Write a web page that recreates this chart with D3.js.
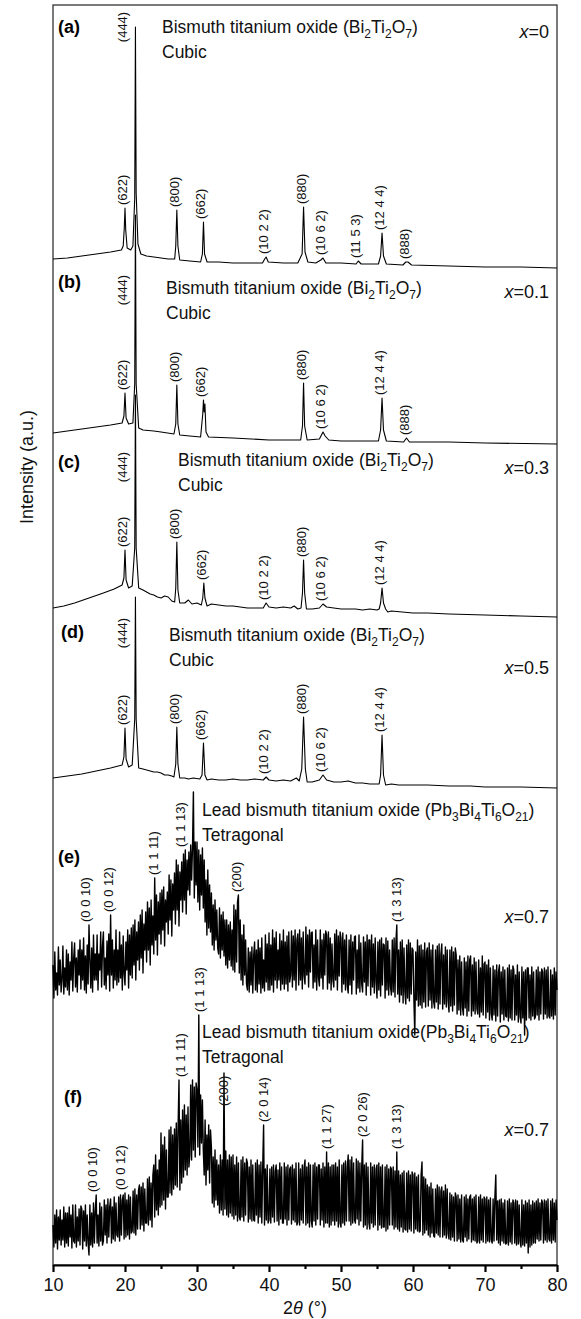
<!DOCTYPE html>
<html>
<head>
<meta charset="utf-8">
<script src="https://cdn.jsdelivr.net/npm/d3@7"></script>
<style>
  body { margin: 0; background: #fff; }
  svg { display: block; font-family: "Liberation Sans", Arial, sans-serif; }
</style>
</head>
<body>
<svg id="chart"></svg>
<script>
// ---- data: [2theta, intensity a.u. above each pattern's own baseline]
const patternA = [[10,9],[12,10],[14,12],[16,14],[18,16],[19.5,18],[19.75,22],[19.9,40],[20.0,60],[20.1,38],[20.3,20],[20.8,18],[21.1,22],[21.35,70],[21.45,241],[21.55,75],[21.8,24],[22.2,14],[23,12],[24,11],[25,10],[26,9],[26.9,9],[27.05,22],[27.2,58],[27.35,22],[27.6,8],[29,7],[30.5,6],[30.75,14],[30.9,46],[31.05,14],[31.4,6],[33,6],[35,5],[37,5],[39.1,5],[39.4,9],[39.6,11],[39.9,6],[42,5],[44,5],[44.6,14],[44.8,61],[45.0,16],[45.4,6],[46.5,5],[47.2,8],[47.5,10],[47.9,5],[50,5],[52.1,4],[52.4,7],[52.8,4],[55.2,4],[55.5,12],[55.7,35],[55.9,12],[56.3,4],[58.6,3],[59.0,6],[59.3,6],[59.8,3],[65,2],[70,1],[75,1],[80,0]];

const patternB = [[10,11],[12,13],[15,16],[18,19],[19.6,21],[19.85,28],[20.0,51],[20.15,26],[20.5,20],[21.1,21],[21.35,60],[21.45,229],[21.55,60],[21.9,16],[22.5,14],[24,13],[25,12],[26.8,10],[27.05,20],[27.2,59],[27.35,20],[27.6,9],[29,8],[30.5,7],[30.8,30],[30.9,44],[31.0,32],[31.1,40],[31.25,12],[31.6,7],[35,6],[40,4],[44.4,4],[44.65,18],[44.8,61],[44.95,18],[45.3,4],[47.0,5],[47.5,12],[47.8,8],[48.3,4],[50,3],[55.2,3],[55.5,14],[55.7,46],[55.9,14],[56.3,3],[58.7,2],[59.1,6],[59.5,2],[65,2],[70,1],[80,0]];

const patternC = [[10,10],[11.5,12],[13,15],[15,20],[17,25],[18.5,29],[19.6,33],[19.85,40],[20.0,68],[20.15,38],[20.5,30],[21.0,32],[21.35,70],[21.45,223],[21.55,70],[21.9,30],[22.5,28],[23,26],[23.5,24],[24,23],[24.5,21],[25,20],[25.5,22],[26,21],[26.5,17],[26.9,16],[27.05,30],[27.2,76],[27.35,28],[27.6,15],[28.3,15],[28.8,18],[29.3,14],[30,15],[30.6,13],[30.8,20],[30.95,35],[31.1,20],[31.4,12],[32,14],[33,13],[34,12],[35,12],[36,11],[37,10],[38,10],[39.2,10],[39.6,15],[40.0,11],[41,10],[42,11],[43,10],[43.5,12],[44.0,9],[44.45,10],[44.65,25],[44.8,58],[44.95,25],[45.2,9],[46,9],[47.0,10],[47.5,14],[48,11],[49,10],[50,9],[52,9],[53,8],[54,9],[55.0,8],[55.3,9],[55.5,15],[55.7,30],[55.9,15],[56.2,9],[56.5,6],[57,7],[60,5],[62,5],[65,4],[70,3],[75,2],[80,1]];

const patternD = [[10,11],[12,13],[14,15],[16,18],[18,21],[19.6,24],[19.85,32],[20.0,61],[20.15,30],[20.5,22],[21.0,24],[21.35,70],[21.45,192],[21.55,70],[21.9,21],[22.5,20],[23,19],[23.5,18],[24,17],[24.5,17],[25,16],[25.5,14],[26,14],[26.5,13],[26.8,12],[27.05,25],[27.2,62],[27.35,25],[27.6,11],[28.3,11],[28.8,10],[29.5,11],[30.4,10],[30.7,14],[30.9,46],[31.1,14],[31.4,9],[32,10],[33,9],[34,9],[35,10],[36,9],[37,9],[38,10],[39.2,9],[39.6,12],[40,9],[41,8],[42,9],[43,8],[43.8,11],[44.2,8],[44.55,20],[44.8,72],[45.05,20],[45.3,7],[46,7],[47.0,9],[47.5,14],[48.0,9],[49,7],[50,7],[51,8],[52,6],[53,6],[54,5],[55.3,5],[55.5,14],[55.7,54],[55.9,14],[56.2,4],[57,5],[58,4],[60,4],[62,4],[65,3],[68,3],[70,2],[75,2],[80,1]];

// noisy scans (e) and (f): one value per 0.125 deg step from 10 to 80 (8 per row = 1 degree)
const scanStart = 10, scanStep = 0.125;
const patternE = [
  55,22,68,30,47,25,73,35,   60,28,40,74,26,52,33,70,   30,66,25,58,40,78,29,62,   77,33,62,28,70,45,80,31,
  70,40,82,30,64,27,75,36,   95,60,32,72,28,85,40,66,   40,85,30,66,50,88,33,74,   88,35,62,31,79,45,86,29,
  105,45,80,32,70,40,90,35,  70,38,88,42,75,30,84,46,   35,78,50,90,32,85,45,92,   42,95,55,100,40,88,60,98,
  50,105,62,110,47,96,70,108, 58,118,70,112,55,120,75,104, 66,142,80,125,65,118,86,127, 76,130,90,133,74,120,98,128,
  86,145,100,140,84,136,110,147, 96,160,110,155,94,148,120,158, 108,166,120,170,106,160,130,168, 125,175,140,172,228,122,178,135,
  178,118,170,110,165,125,172,112, 160,98,140,85,150,92,135,88, 127,75,115,70,120,80,110,72, 66,112,62,105,70,108,64,100,
  55,100,52,95,60,98,54,90,  50,115,48,110,58,118,125,47, 100,40,85,35,95,45,80,36, 30,72,28,68,35,73,27,65,
  78,30,70,28,80,36,72,27,   82,32,60,29,85,38,76,30,   87,30,75,35,90,28,82,40,   88,32,70,40,86,30,79,36,
  90,31,78,36,84,29,88,38,   45,89,33,84,40,90,30,80,   86,35,90,40,82,31,88,44,   36,93,45,85,33,90,48,87,
  88,32,75,38,90,30,80,42,   34,90,42,80,31,86,45,89,   85,31,88,37,82,30,76,40,   33,86,40,90,30,84,44,88,
  82,28,87,36,80,30,85,34,   27,80,35,85,26,78,40,83,   84,26,70,32,85,28,77,36,   28,83,38,78,25,85,34,80,
  80,25,85,33,76,27,82,38,   22,78,30,80,24,82,35,76,   75,22,82,30,79,25,70,33,   25,80,28,82,23,78,95,26,
  70,18,78,25,80,17,72,28,   16,75,22,80,19,77,26,72,   70,20,-15,68,20,80,14,74,  15,75,12,70,18,77,13,68,
  72,14,77,20,70,12,75,18,   12,70,18,74,11,76,16,66,   76,11,65,16,73,13,70,19,   8,70,14,73,9,68,15,72,
  65,6,60,10,64,5,58,12,     5,62,12,58,4,64,9,60,      64,4,55,9,62,6,58,11,      6,60,3,52,8,64,5,56,
  58,2,55,8,60,0,52,6,       0,54,5,50,-1,55,4,48,      55,-2,48,6,53,0,50,4,      3,52,-1,55,2,50,0,54,
  50,0,45,5,55,-2,48,3,      -3,53,2,48,-15,50,0,52,    52,2,45,0,53,4,48,1,       3,50,5,53,0,48,6,51,
  48,1,52,6,50,2,53,4,       2,50,4,45,1,52,5,48,
  30
];
const patternF = [
  30,8,40,12,45,6,38,15,     45,10,35,15,48,8,42,12,    42,9,48,18,40,7,50,14,     12,50,8,38,14,46,10,49,
  46,6,44,14,50,9,40,12,     0,50,10,42,8,52,12,45,     60,12,40,9,52,14,48,10,    14,55,20,50,12,56,18,48,
  56,12,48,16,58,14,52,20,   18,58,14,60,20,55,60,16,   62,18,55,20,60,16,58,22,   24,64,22,66,20,60,26,65,
  70,26,68,30,72,24,66,32,   32,76,30,78,35,72,28,80,   90,38,100,45,85,40,95,48,  122,50,110,55,118,46,105,58,
  58,125,62,128,60,120,66,126, 70,132,68,128,175,65,135,72, 145,78,150,85,140,80,148,88, 100,170,95,175,105,168,98,172,
  165,108,240,100,160,112,155,105, 80,135,70,120,85,130,72,125, 108,52,98,48,105,55,95,50, 90,42,100,45,95,40,182,46,
  104,40,95,38,100,42,98,39, 100,36,90,40,98,34,92,38,  35,95,38,98,34,92,40,96,   92,33,88,36,95,34,90,35,
  34,92,40,95,32,90,38,93,   32,88,130,30,86,35,90,32,  35,86,32,88,38,90,33,84,   90,34,85,30,92,36,88,32,
  32,92,36,88,30,90,35,86,   88,31,90,35,86,33,92,30,   33,92,30,86,35,90,32,88,   95,30,88,32,92,28,90,34,
  28,90,34,92,30,88,36,90,   90,30,86,35,92,28,88,32,   103,32,92,28,88,30,90,34,  90,30,92,34,88,28,95,32,
  28,90,32,92,30,94,34,88,   100,34,95,30,98,32,92,35,  32,96,36,94,30,92,34,88,   115,28,90,30,92,26,88,32,
  26,92,32,88,28,90,30,86,   90,25,92,30,88,27,90,28,   28,88,24,90,26,86,30,88,   86,30,88,26,84,28,103,26,
  84,24,80,28,82,23,84,26,   25,82,23,84,26,80,24,83,   80,22,82,26,78,24,80,23,   24,80,93,20,78,22,76,25,
  70,20,68,18,72,22,66,19,   18,66,22,70,20,68,18,64,   68,18,64,20,70,17,66,21,   16,62,15,60,18,58,14,62,
  58,14,60,16,56,13,60,15,   13,58,18,60,14,56,16,58,   60,13,56,15,58,14,60,12,   14,58,12,60,15,56,13,58,
  56,12,58,14,55,13,57,15,   12,56,14,58,80,15,54,12,   55,10,56,14,52,12,55,11,   12,54,10,56,13,52,11,55,
  52,12,55,10,54,11,50,13,   8,55,10,50,9,54,12,52,     2,55,8,50,10,54,12,52,     12,54,16,56,14,52,15,55,
  52,12,55,15,54,13,56,16,   14,54,12,56,15,52,13,55,
  35
];

// peak labels: [text, 2theta]
const labelsA = [["(622)",20.0],["(800)",27.2],["(662)",30.9],["(10 2 2)",39.6],["(880)",44.8],["(10 6 2)",47.5],["(11 5 3)",52.4],["(12 4 4)",55.7],["(888)",59.1]];
const labelsB = [["(622)",20.0],["(800)",27.2],["(662)",30.9],["(880)",44.8],["(10 6 2)",47.5],["(12 4 4)",55.7],["(888)",59.1]];
const labelsC = [["(622)",20.0],["(800)",27.2],["(662)",30.95],["(10 2 2)",39.6],["(880)",44.8],["(10 6 2)",47.5],["(12 4 4)",55.7]];
const labelsD = [["(622)",20.0],["(800)",27.2],["(662)",30.9],["(10 2 2)",39.6],["(880)",44.8],["(10 6 2)",47.5],["(12 4 4)",55.7]];
const labelsE = [["(0 0 10)",14.9],["(0 0 12)",18.0],["(1 1 11)",24.3],["(1 1 13)",28.0],["(200)",35.9],["(1 3 13)",58.0]];
const labelsF = [["(0 0 10)",15.8],["(0 0 12)",19.7],["(1 1 11)",28.0],["(1 1 13)",30.7],["(200)",34.0],["(2 0 14)",39.6],["(1 1 27)",48.4],["(2 0 26)",53.4],["(1 3 13)",58.1]];

const xTicks = [10, 20, 30, 40, 50, 60, 70, 80];
const xMinorTicks = [15, 25, 35, 45, 55, 65, 75];
const sampleX = ["0", "0.1", "0.3", "0.5", "0.7", "0.7"];

// ---- layout
const W = 581, H = 1319;
const svg = d3.select("#chart").attr("width", W).attr("height", H);
const x = d3.scaleLinear().domain([10, 80]).range([53, 557]);
const y = d3.scaleLinear().domain([0, 1260]).range([1265, 5]);

const scan = arr => arr.map((v, i) => [scanStart + i * scanStep, v]);

// formula pieces: [text, isSubscript]
const bto = [["Bismuth titanium oxide (Bi"],["2",1],["Ti"],["2",1],["O"],["7",1],[")"]];
const pbto = [["Lead bismuth titanium oxide (Pb"],["3",1],["Bi"],["4",1],["Ti"],["6",1],["O"],["21",1],[")"]];
const pbto2 = [["Lead bismuth titanium oxide(Pb"],["3",1],["Bi"],["4",1],["Ti"],["6",1],["O"],["21",1],[")"]];

const panels = [
  {letter:"(a)", data:patternA, labels:labelsA, offset:997, lx:58, ly:33, tx:162, ty:33, title:bto, sub:"Cubic", xy:38, mainY:27, width:1.1},
  {letter:"(b)", data:patternB, labels:labelsB, offset:821, lx:58, ly:288, tx:166, ty:294, title:bto, sub:"Cubic", xy:298, mainY:290, width:1.1},
  {letter:"(c)", data:patternC, labels:labelsC, offset:647, lx:58, ly:468, tx:178, ty:466, title:bto, sub:"Cubic", xy:474, mainY:467, width:1.1},
  {letter:"(d)", data:patternD, labels:labelsD, offset:476, lx:61, ly:638, tx:169, ty:641, title:bto, sub:"Cubic", xy:674, mainY:633, width:1.1},
  {letter:"(e)", data:scan(patternE), labels:labelsE, offset:245, lx:58, ly:863, tx:202, ty:816, title:pbto, sub:"Tetragonal", xy:923, width:1.4},
  {letter:"(f)", data:scan(patternF), labels:labelsF, offset:10, lx:64, ly:1103, tx:202, ty:1038, title:pbto2, sub:"Tetragonal", xy:1136, width:1.4, drop:{"(200)":36}}
];

// frame
svg.append("rect")
  .attr("x", x(10)).attr("y", y(1260))
  .attr("width", x(80) - x(10)).attr("height", y(0) - y(1260))
  .attr("fill", "none").attr("stroke", "#333").attr("stroke-width", 1.3);

const line = offset => d3.line().x(d => x(d[0])).y(d => y(d[1] + offset));

panels.forEach((p, i) => {
  svg.append("path")
    .datum(p.data)
    .attr("d", line(p.offset))
    .attr("fill", "none")
    .attr("stroke", "#000")
    .attr("stroke-width", p.width)
    .attr("stroke-linejoin", "round");

  // peak labels sit right above the highest point near their angle
  p.labels.forEach(([txt, t]) => {
    const near = p.data.filter(d => Math.abs(d[0] - t) <= 0.6);
    const top = d3.max(near, d => d[1]);
    const drop = (p.drop && p.drop[txt]) || 0;
    const px = x(t) + 2, py = y(top + p.offset) - 3 + drop;
    svg.append("text")
      .attr("transform", `translate(${px},${py}) rotate(-90)`)
      .attr("font-size", 13)
      .attr("fill", "#111")
      .text(txt);
  });

  if (p.mainY !== undefined) {
    svg.append("text")
      .attr("transform", `translate(${x(21.45) - 8},${p.mainY}) rotate(-90)`)
      .attr("text-anchor", "middle")
      .attr("font-size", 13)
      .attr("fill", "#111")
      .text("(444)");
  }

  svg.append("text")
    .attr("x", p.lx).attr("y", p.ly)
    .attr("font-size", 18).attr("font-weight", "bold")
    .text(p.letter);

  const t = svg.append("text").attr("x", p.tx).attr("y", p.ty).attr("font-size", 17.5).attr("fill", "#111");
  let wasSub = false;
  p.title.forEach(([s, isSub]) => {
    const ts = t.append("tspan").text(s);
    if (isSub) { ts.attr("font-size", 12).attr("dy", wasSub ? 0 : 5); wasSub = true; }
    else { ts.attr("dy", wasSub ? -5 : 0); wasSub = false; }
  });

  svg.append("text")
    .attr("x", p.tx).attr("y", p.ty + 25)
    .attr("font-size", 17.5).attr("fill", "#111")
    .text(p.sub);

  const xl = svg.append("text")
    .attr("x", 549).attr("y", p.xy)
    .attr("text-anchor", "end")
    .attr("font-size", 18).attr("fill", "#111");
  xl.append("tspan").attr("font-style", "italic").text("x");
  xl.append("tspan").text("=" + sampleX[i]);
});

// bottom axis
const axisG = svg.append("g").attr("transform", `translate(0,${y(0)})`);
axisG.call(d3.axisBottom(x).tickValues(xTicks).tickSize(7).tickPadding(6).tickSizeOuter(0));
axisG.select(".domain").attr("stroke", "#000").attr("stroke-width", 2);
axisG.selectAll(".tick line").attr("stroke", "#000").attr("stroke-width", 2.2);
axisG.selectAll(".tick text").attr("font-size", 18).attr("fill", "#111")
  .attr("font-family", "Liberation Sans, Arial, sans-serif");

const minorG = svg.append("g").attr("transform", `translate(0,${y(0)})`);
minorG.call(d3.axisBottom(x).tickValues(xMinorTicks).tickSize(4).tickFormat(""));
minorG.select(".domain").remove();
minorG.selectAll(".tick line").attr("stroke", "#000").attr("stroke-width", 2.2);

// axis titles
const xt = svg.append("text")
  .attr("x", (x(10) + x(80)) / 2).attr("y", 1314)
  .attr("text-anchor", "middle").attr("font-size", 18).attr("fill", "#111");
xt.append("tspan").text("2");
xt.append("tspan").attr("font-style", "italic").text("θ");
xt.append("tspan").text(" (°)");

svg.append("text")
  .attr("transform", "translate(33,467) rotate(-90)")
  .attr("text-anchor", "middle")
  .attr("font-size", 18).attr("fill", "#111")
  .text("Intensity (a.u.)");
</script>
</body>
</html>
